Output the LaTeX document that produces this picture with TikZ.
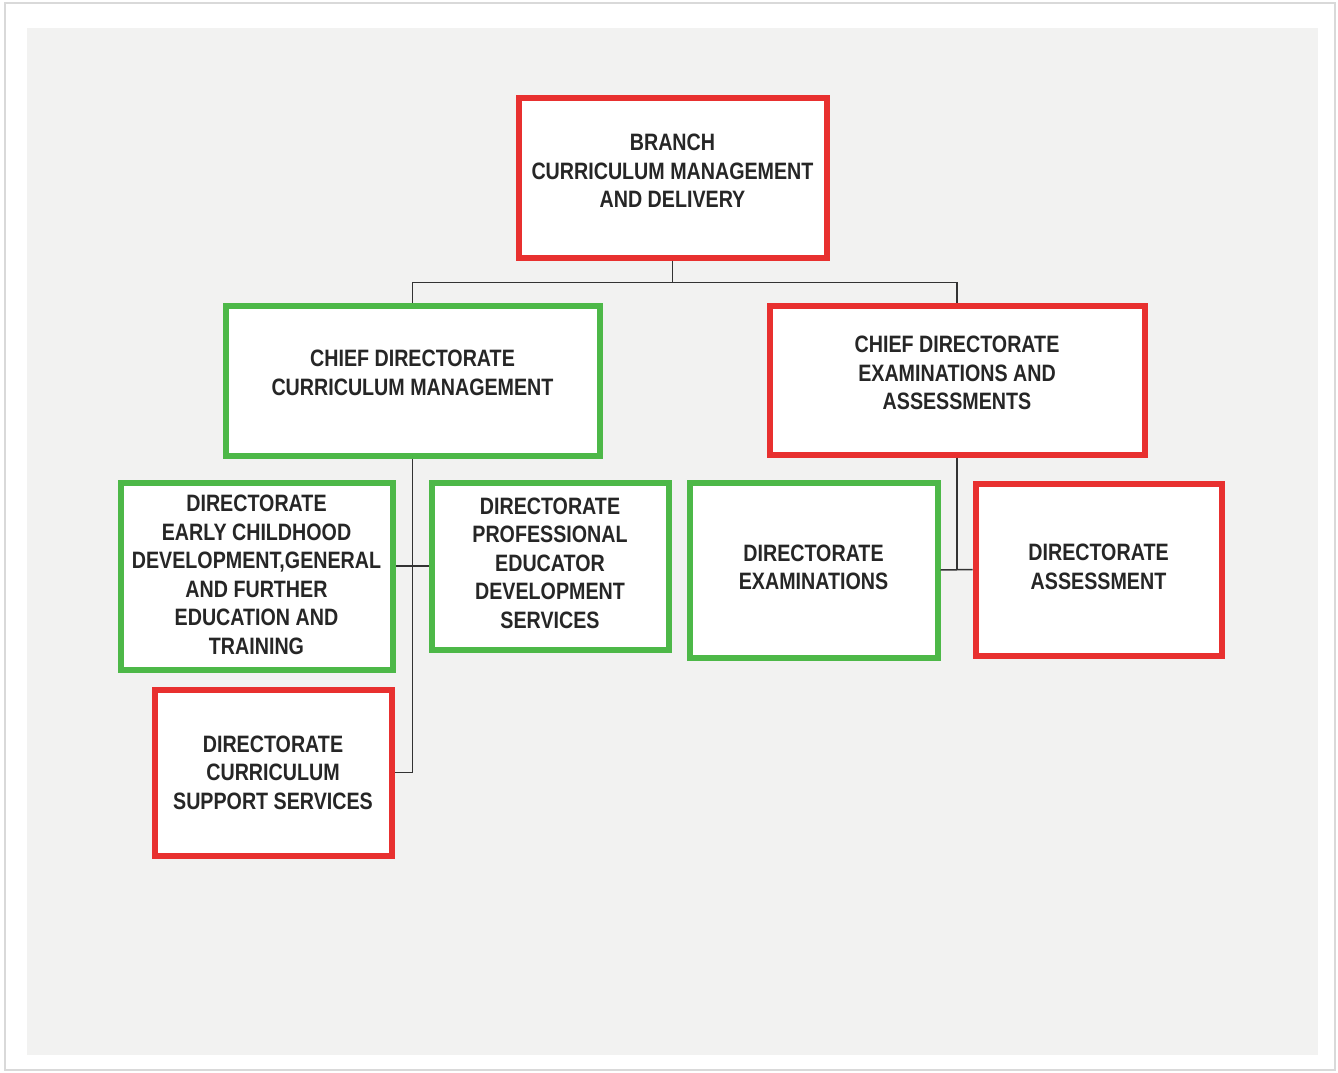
\documentclass[tikz,border=0pt]{standalone}
\usepackage{fontspec}
\setmainfont{Liberation Sans}[FakeStretch=0.83]
\definecolor{boxred}{HTML}{E8302F}
\definecolor{boxgreen}{HTML}{4DB848}
\definecolor{panel}{HTML}{F2F2F1}
\definecolor{wire}{HTML}{333333}
\begin{document}
\begin{tikzpicture}[x=1pt,y=-1pt,
  unit/.style={draw=#1, line width=6pt, fill=white, rectangle, inner sep=0pt},
  caption/.style={align=center, inner sep=0pt,
    font=\fontsize{23.7}{28.5}\selectfont\bfseries, text=black!85},
  wiring/.style={draw=wire, line width=1.5pt}]
  % page, frame and panel
  \useasboundingbox (0,0) rectangle (1338,1073);
  \fill[white] (0,0) rectangle (1338,1073);
  \draw[gray!30, line width=2pt] (5,3) rectangle (1335,1070);
  \fill[panel] (27,28) rectangle (1318,1055);

  % unit boxes
  \node[unit=boxred,   minimum width=308, minimum height=160] (branch) at (672.5,177.5) {};
  \node[unit=boxgreen, minimum width=374, minimum height=150] (cdcm)   at (412.5,380.5) {};
  \node[unit=boxred,   minimum width=375, minimum height=149] (cdea)   at (957,380) {};
  \node[unit=boxgreen, minimum width=272, minimum height=187] (ecd)    at (256.5,576) {};
  \node[unit=boxgreen, minimum width=237, minimum height=167] (ped)    at (550,566) {};
  \node[unit=boxred,   minimum width=237, minimum height=166] (css)    at (273,772.5) {};
  \node[unit=boxgreen, minimum width=248, minimum height=175] (exa)    at (813.5,570) {};
  \node[unit=boxred,   minimum width=246, minimum height=172] (ass)    at (1098.5,569.5) {};

  % unit titles (shifted slightly above the box centres)
  \node[caption] (branch-t) at ([yshift=6.5]branch.center)
    {BRANCH\\CURRICULUM MANAGEMENT\\AND DELIVERY};
  \node[caption] (cdcm-t) at ([yshift=7.5]cdcm.center)
    {CHIEF DIRECTORATE\\CURRICULUM MANAGEMENT};
  \node[caption] (cdea-t) at ([yshift=7]cdea.center)
    {CHIEF DIRECTORATE\\EXAMINATIONS AND\\ASSESSMENTS};
  \node[caption] (ecd-t) at ([yshift=1]ecd.center)
    {DIRECTORATE\\EARLY CHILDHOOD\\DEVELOPMENT,GENERAL\\AND FURTHER\\EDUCATION AND\\TRAINING};
  \node[caption] (ped-t) at ([yshift=3]ped.center)
    {DIRECTORATE\\PROFESSIONAL\\EDUCATOR\\DEVELOPMENT\\SERVICES};
  \node[caption] (css-t) at (css.center)
    {DIRECTORATE\\CURRICULUM\\SUPPORT SERVICES};
  \node[caption] (exa-t) at ([yshift=2.5]exa.center)
    {DIRECTORATE\\EXAMINATIONS};
  \node[caption] (ass-t) at ([yshift=2.5]ass.center)
    {DIRECTORATE\\ASSESSMENT};

  % connectors
  \coordinate (bus) at ([yshift=-22]branch.south);
  \draw[wiring] (branch.south) -- (bus) -| (cdcm.north);
  \draw[wiring] (bus) -| (cdea.north);
  \draw[wiring] (cdcm.south) |- (css.east);
  \draw[wiring] (ped.west) -- (ped.west -| ecd.east);
  \draw[wiring] (cdea.south) -- (cdea.south |- exa.east);
  \draw[wiring] (exa.east) -- (ass.west);
\end{tikzpicture}
\end{document}
